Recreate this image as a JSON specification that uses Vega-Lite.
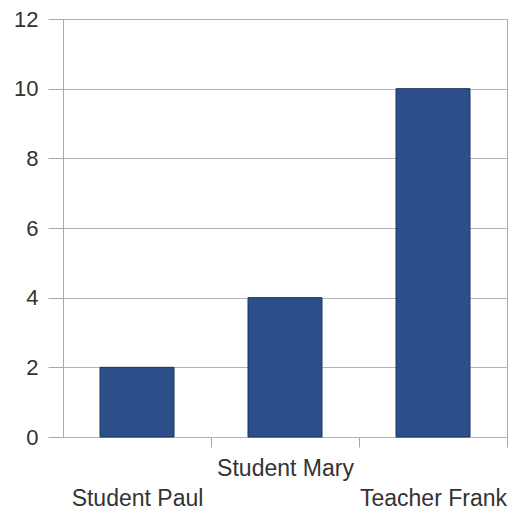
{
  "$schema": "https://vega.github.io/schema/vega-lite/v6.json",
  "autosize": "none",
  "width": 444,
  "height": 418,
  "padding": {"left": 63, "top": 19, "right": 15, "bottom": 76},
  "background": "white",
  "config": {
    "view": {"stroke": "#a8a8a8", "strokeWidth": 1},
    "axis": {
      "labelFont": "Liberation Sans",
      "labelFontSize": 22,
      "labelColor": "#333333",
      "tickColor": "#a8a8a8",
      "gridColor": "#b4b4b4",
      "domain": false,
      "title": null
    }
  },
  "data": {
    "values": [
      {"Person": "Student Paul", "Value": 2},
      {"Person": "Student Mary", "Value": 4},
      {"Person": "Teacher Frank", "Value": 10}
    ]
  },
  "mark": {"type": "bar", "color": "#2c4f8a", "stroke": "#1c3461", "strokeWidth": 1},
  "encoding": {
    "x": {
      "field": "Person",
      "type": "nominal",
      "sort": null,
      "scale": {"paddingInner": 0.5, "paddingOuter": 0.25},
      "axis": {
        "labelAngle": 0,
        "labelFontSize": 23,
        "tickSize": 10,
        "tickOffset": 74,
        "labelOffset": -74,
        "labelPadding": 10,
        "labelLineHeight": 30,
        "labelBaseline": "top",
        "labelOverlap": false,
        "labelBound": false,
        "labelExpr": "datum.value == 'Student Mary' ? datum.value : ['', datum.value]"
      }
    },
    "y": {
      "field": "Value",
      "type": "quantitative",
      "scale": {"domain": [0, 12], "nice": false},
      "axis": {
        "values": [0, 2, 4, 6, 8, 10, 12],
        "tickSize": 15,
        "labelPadding": 10,
        "grid": true
      }
    }
  }
}
